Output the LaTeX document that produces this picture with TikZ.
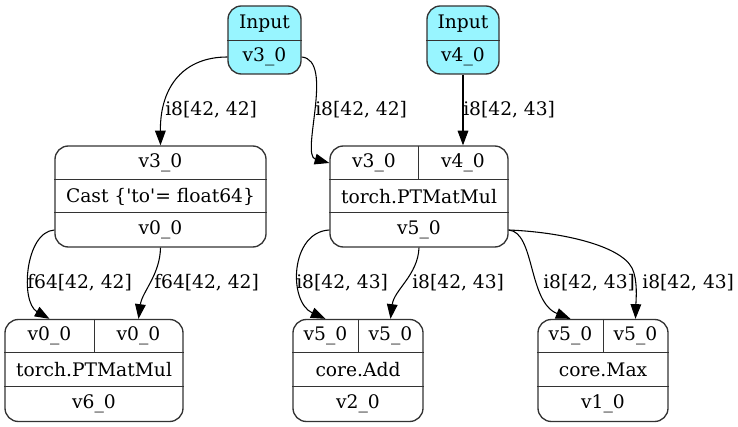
\documentclass[tikz,border=0pt]{standalone}
\usepackage{fontspec}
\setmainfont{DejaVu Serif}
\usetikzlibrary{arrows.meta}
\definecolor{inputfill}{HTML}{98F5FF}
\definecolor{rim}{HTML}{333333}
\begin{document}
\begin{tikzpicture}[x=0.75pt,y=-0.75pt,
  font=\fontsize{14}{16}\selectfont,
  record/.style={draw=rim,line width=1pt,rounded corners=10pt,inner sep=0pt},
  inrec/.style={record,fill=inputfill},
  txt/.style={inner sep=0pt,anchor=center},
  lbl/.style={inner sep=0pt,anchor=west},
  rule/.style={draw=rim,line width=1pt},
  edge/.style={draw=black,line width=0.8pt,-{Triangle[length=11pt,width=8pt]}}]
\useasboundingbox (0,0) rectangle (738,427);

% input records
\node[inrec,minimum width=54.75pt,minimum height=51pt] (in3) at (264.5,40) {};
\node[txt] (in3t) at (264.5,23.5) {Input};
\node[txt] (in3p) at (264.5,57) {v3\_0};
\draw[rule] (in3.west |- 0,40.5) -- (in3.east |- 0,40.5);

\node[inrec,minimum width=54pt,minimum height=51pt] (in4) at (463,40) {};
\node[txt] (in4t) at (463,23.5) {Input};
\node[txt] (in4p) at (463,57) {v4\_0};
\draw[rule] (in4.west |- 0,40.5) -- (in4.east |- 0,40.5);

% cast record
\node[record,minimum width=158.25pt,minimum height=75.75pt] (cast) at (160.5,196.5) {};
\node[txt] (castin) at (160.5,163) {v3\_0};
\node[txt] (castop) at (160.5,196.5) {Cast \{\textquotesingle to\textquotesingle= float64\}};
\node[txt] (castout) at (160.5,230) {v0\_0};
\draw[rule] (cast.west |- 0,179.5) -- (cast.east |- 0,179.5);
\draw[rule] (cast.west |- 0,212.5) -- (cast.east |- 0,212.5);

% matmul record with two inputs
\node[record,minimum width=133.5pt,minimum height=75.75pt] (mm) at (419,196.5) {};
\node[txt] (mmp1) at (374,163) {v3\_0};
\node[txt] (mmp2) at (463,163) {v4\_0};
\node[txt] (mmop) at (419,196.5) {torch.PTMatMul};
\node[txt] (mmout) at (419,230) {v5\_0};
\draw[rule] (mm.west |- 0,179.5) -- (mm.east |- 0,179.5);
\draw[rule] (mm.west |- 0,212.5) -- (mm.east |- 0,212.5);
\draw[rule] (418.5,146) -- (418.5,179.5);

% second matmul
\node[record,minimum width=133.5pt,minimum height=76.5pt] (mm2) at (94,370.5) {};
\node[txt] (mm2p1) at (49.5,336) {v0\_0};
\node[txt] (mm2p2) at (138.5,336) {v0\_0};
\node[txt] (mm2op) at (94,369.5) {torch.PTMatMul};
\node[txt] (mm2out) at (94,404) {v6\_0};
\draw[rule] (mm2.west |- 0,352.5) -- (mm2.east |- 0,352.5);
\draw[rule] (mm2.west |- 0,386.5) -- (mm2.east |- 0,386.5);
\draw[rule] (94.5,319) -- (94.5,352.5);

% add
\node[record,minimum width=97.5pt,minimum height=76.5pt] (add) at (358,370.5) {};
\node[txt] (addp1) at (325.5,336) {v5\_0};
\node[txt] (addp2) at (390.5,336) {v5\_0};
\node[txt] (addop) at (358,369.5) {core.Add};
\node[txt] (addout) at (358,404) {v2\_0};
\draw[rule] (add.west |- 0,352.5) -- (add.east |- 0,352.5);
\draw[rule] (add.west |- 0,386.5) -- (add.east |- 0,386.5);
\draw[rule] (358.5,319) -- (358.5,352.5);

% max
\node[record,minimum width=97.5pt,minimum height=76.5pt] (max) at (603,370.5) {};
\node[txt] (maxp1) at (570.5,336) {v5\_0};
\node[txt] (maxp2) at (635.5,336) {v5\_0};
\node[txt] (maxop) at (603,369.5) {core.Max};
\node[txt] (maxout) at (603,404) {v1\_0};
\draw[rule] (max.west |- 0,352.5) -- (max.east |- 0,352.5);
\draw[rule] (max.west |- 0,386.5) -- (max.east |- 0,386.5);
\draw[rule] (603.5,319) -- (603.5,352.5);

% connectors
\draw[edge] (in3.west |- in3p) .. controls (185,57) and (160,85) .. (cast.north);
\draw[edge] (in3.east |- in3p) .. controls (335,60) and (300,155) .. (mm.west |- mmp1);
\draw[edge] (in4.south) -- (mmp2 |- mm.north);
\draw[edge] (cast.west |- castout) .. controls (25,232) and (20,302) .. (mm2p1 |- mm2.north);
\draw[edge] (cast.south) .. controls (160,275) and (142,292) .. (mm2p2 |- mm2.north);
\draw[edge] (mm.west |- mmout) .. controls (290,232) and (288,302) .. (addp1 |- add.north);
\draw[edge] (mm.south) .. controls (418,275) and (394,290) .. (addp2 |- add.north);
\draw[edge] (mm.east |- mmout) .. controls (535,232) and (528,302) .. (maxp1 |- max.north);
\draw[edge] (mm.east |- mmout) .. controls (560,232) and (620,245) .. (632,268)
  .. controls (638,280) and (636,300) .. (maxp2 |- max.north);

% connector labels
\node[lbl] (l1) at (165,110) {i8[42, 42]};
\node[lbl] (l2) at (315,110) {i8[42, 42]};
\node[lbl] (l3) at (463,110) {i8[42, 43]};
\node[lbl] (l4) at (27,283) {f64[42, 42]};
\node[lbl] (l5) at (154,283) {f64[42, 42]};
\node[lbl] (l6) at (296,283) {i8[42, 43]};
\node[lbl] (l7) at (412,283) {i8[42, 43]};
\node[lbl] (l8) at (543,283) {i8[42, 43]};
\node[lbl] (l9) at (642,283) {i8[42, 43]};
\end{tikzpicture}
\end{document}
